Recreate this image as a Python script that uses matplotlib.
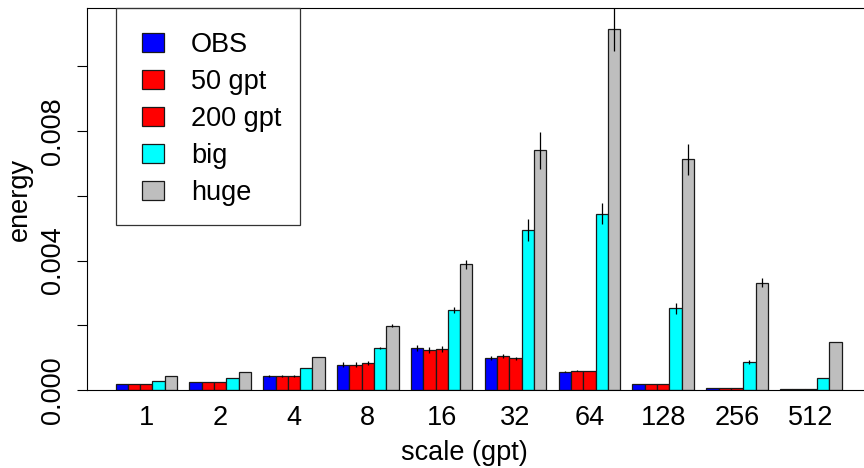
import matplotlib
matplotlib.use("Agg")
import matplotlib.pyplot as plt
from matplotlib.patches import Patch, Rectangle
import numpy as np

plt.rcParams['font.family'] = ['Liberation Sans', 'DejaVu Sans']

scales = ['1', '2', '4', '8', '16', '32', '64', '128', '256', '512']
series_names = ['OBS', '50 gpt', '200 gpt', 'big', 'huge']
series_colors = ['#0000FF', '#FF0000', '#FF0000', '#00FFFF', '#BEBEBE']

obs      = [0.000185, 0.000237, 0.000442, 0.00078, 0.00129, 0.00098, 0.000565, 0.000185, 0.00007, 0.00002]
gpt50    = [0.000185, 0.000237, 0.000435, 0.00078, 0.00123, 0.00105, 0.000597, 0.00019, 0.00007, 0.00002]
gpt200   = [0.000185, 0.000237, 0.000435, 0.00083, 0.00126, 0.00098, 0.00059, 0.00019, 0.00007, 0.00002]
big      = [0.000268, 0.000361, 0.00067, 0.00129, 0.00247, 0.00494, 0.00545, 0.00252, 0.000865, 0.00038]
huge     = [0.000423, 0.000546, 0.00101, 0.00199, 0.00388, 0.00741, 0.01115, 0.00713, 0.00331, 0.00148]

obs_err    = [0.0, 0.0, 0.00003, 0.00008, 0.0001, 0.00006, 0.00002, 0.0, 0.0, 0.0]
gpt50_err  = [0.0, 0.0, 0.00002, 0.00008, 0.0001, 0.00005, 0.00002, 0.0, 0.0, 0.0]
gpt200_err = [0.0, 0.0, 0.00002, 0.00007, 0.0001, 0.00005, 0.0, 0.0, 0.0, 0.0]
big_err    = [0.0, 0.0, 0.0, 0.00003, 0.00008, 0.00033, 0.00032, 0.00017, 0.00005, 0.0]
huge_err   = [0.0, 0.0, 0.0, 0.00005, 0.00013, 0.00057, 0.00068, 0.00048, 0.00014, 0.0]

values = [obs, gpt50, gpt200, big, huge]
errors = [obs_err, gpt50_err, gpt200_err, big_err, huge_err]

W, H = 864, 468
fig = plt.figure(figsize=(W / 100, H / 100), dpi=100)
left_px, right_px, top_px, bot_px = 86.5, 870.7, 8.0, 390.0
ax = fig.add_axes([left_px / W, 1 - bot_px / H, (right_px - left_px) / W, (bot_px - top_px) / H])

FS = 19.5
n_groups = len(scales)
n_series = len(values)
group_start = 1 + np.arange(n_groups) * (n_series + 1)

for i, (vals, errs, col) in enumerate(zip(values, errors, series_colors)):
    xl = group_start + i
    ax.bar(xl, vals, width=1.0, align='edge', color=col, edgecolor='#1a1a1a',
           linewidth=0.9, zorder=2)
    ax.errorbar(xl + 0.5, vals, yerr=errs, fmt='none', ecolor='black',
                elinewidth=0.9, capsize=0, zorder=3)

ax.set_xlim(-1.36, 62.36)
ax.set_ylim(0, 0.0118)

ax.set_xticks(group_start + n_series / 2)
ax.set_xticklabels(scales, fontsize=FS)
ax.tick_params(axis='x', length=0, pad=10.5)

yt = [0.0, 0.002, 0.004, 0.006, 0.008, 0.010]
ax.set_yticks(yt)
ax.set_yticklabels(['0.000', '', '0.004', '', '0.008', ''], fontsize=FS, rotation=90, va='center')
ax.tick_params(axis='y', length=7, width=0.8, pad=7.5, colors='black')

for s in ['left', 'top', 'bottom']:
    ax.spines[s].set_linewidth(0.8)
    ax.spines[s].set_color('black')
ax.spines['right'].set_visible(False)

ax.set_xlabel('scale (gpt)', fontsize=FS, va='top')
ax.xaxis.set_label_coords(464.5 / W, 1 - 440 / H, transform=fig.transFigure)
ax.set_ylabel('energy', fontsize=FS)
ax.yaxis.set_label_coords(33 / W, 1 - 199 / H, transform=fig.transFigure)

handles = [Patch(facecolor=c, edgecolor='#1a1a1a', linewidth=0.9) for c in series_colors]
leg = ax.legend(handles, series_names, loc='upper left', frameon=False,
                bbox_to_anchor=(142 / W, 1 - 32 / H), bbox_transform=fig.transFigure,
                borderpad=0, fontsize=FS, handlelength=0.83, handleheight=0.67,
                handletextpad=0.98, labelspacing=0.405, borderaxespad=0)

frame = Rectangle((115.7 / W, 1 - 225 / H), (300 - 115.7) / W, (225 - 8) / H,
                  transform=fig.transFigure, fill=False, edgecolor='#333333', linewidth=0.9)
fig.add_artist(frame)

fig.savefig('out.png', dpi=100)
